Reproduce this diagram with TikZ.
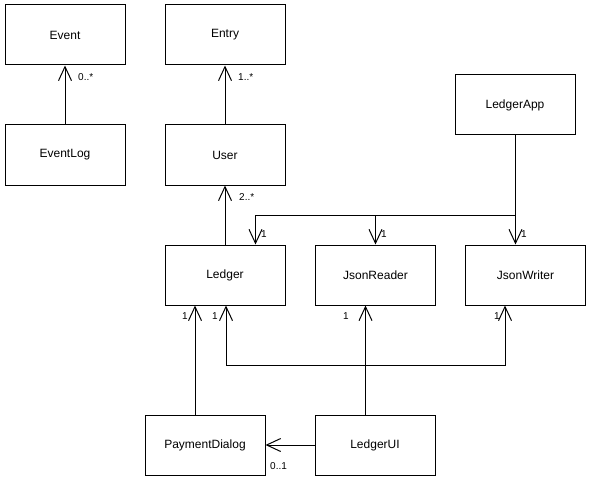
\documentclass[tikz,border=0pt]{standalone}
\usepackage{fontspec}
\setmainfont{Liberation Sans}
\usetikzlibrary{arrows.meta}
\begin{document}
\begin{tikzpicture}[x=1pt,y=-1pt,
  cls/.style={draw,line width=1pt,minimum width=120pt,minimum height=60pt,inner sep=0pt,font=\fontsize{12}{14}\selectfont},
  arr/.style={line width=1pt,-{Straight Barb[length=14pt,width=13pt,line width=1pt]}},
  ln/.style={line width=1pt},
  mult/.style={font=\fontsize{10}{12}\selectfont,inner sep=0pt}]
\useasboundingbox (0,0) rectangle (591,481);
\node[cls] (event) at (65,35) {Event};
\node[cls] (entry) at (225,35) {Entry};
\node[cls] (eventlog) at (65,155) {EventLog};
\node[cls] (user) at (225,155) {User};
\node[cls] (ledgerapp) at (515,105) {LedgerApp};
\node[cls] (ledger) at (225,275) {Ledger};
\node[cls] (jsonreader) at (375.5,275) {JsonReader};
\node[cls] (jsonwriter) at (525.5,275) {JsonWriter};
\node[cls] (paymentdialog) at (205,445) {PaymentDialog};
\node[cls] (ledgerui) at (375,445) {LedgerUI};
\draw[arr] (eventlog) -- (event);
\draw[arr] (user) -- (entry);
\draw[arr] (ledger) -- (user);
\coordinate (jtop) at (515.5,215);
\coordinate (jl) at (255.5,215);
\coordinate (jr) at (375.5,215);
\draw[arr] (ledgerapp.south -| jtop) -- (jtop |- jsonwriter.north);
\draw[arr] (jtop) -- (jl) -- (jl |- ledger.north);
\draw[arr] (jr) -- (jr |- jsonreader.north);
\coordinate (jb) at (365.5,365);
\coordinate (bl) at (226,365);
\coordinate (br) at (505,365);
\coordinate (pdx) at (195,380);
\draw[arr] (ledgerui.north -| jb) -- (jb |- jsonreader.south);
\draw[arr] (jb) -- (bl) -- (bl |- ledger.south);
\draw[arr] (jb) -- (br) -- (br |- jsonwriter.south);
\draw[arr] (paymentdialog.north -| pdx) -- (pdx |- ledger.south);
\draw[arr] (ledgerui) -- (paymentdialog);
\node[mult,anchor=west] (m1) at (78,77) {0..*};
\node[mult,anchor=west] (m2) at (238,77) {1..*};
\node[mult,anchor=west] (m3) at (239,197) {2..*};
\node[mult,anchor=west] (m4) at (261,234) {1};
\node[mult,anchor=west] (m5) at (381,234) {1};
\node[mult,anchor=west] (m6) at (521,234) {1};
\node[mult,anchor=west] (m7) at (182,316) {1};
\node[mult,anchor=west] (m8) at (212,316) {1};
\node[mult,anchor=west] (m9) at (343,316) {1};
\node[mult,anchor=west] (m10) at (494,316) {1};
\node[mult,anchor=west] (m11) at (270,466) {0..1};
\end{tikzpicture}
\end{document}
